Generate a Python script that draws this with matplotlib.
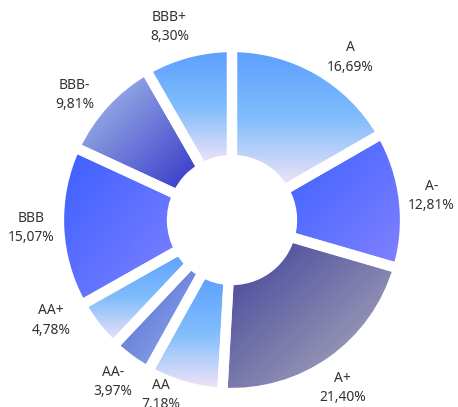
import numpy as np
import matplotlib
matplotlib.use("Agg")
import matplotlib.pyplot as plt
from matplotlib.colors import LinearSegmentedColormap

# rating buckets, clockwise from 12 o'clock
ratings = ["A", "A-", "A+", "AA", "AA-", "AA+", "BBB", "BBB-", "BBB+"]
shares = [16.69, 12.81, 21.40, 7.18, 3.97, 4.78, 15.07, 9.81, 8.30]

# fill style per bucket: (direction, colour stops)
sky = [(0, "#5b9dff"), (0.5, "#80bdfc"), (1, "#f8e6f6")]
violet = [(0, "#3a5fff"), (1, "#8282ff")]
fills = {
    "A": ("v", sky),
    "A-": ("d", violet),
    "A+": ("d", [(0, "#3c3c98"), (1, "#b6b6c0")]),
    "AA": ("v", sky),
    "AA-": ("d", [(0, "#4e60d0"), (1, "#96b6ee")]),
    "AA+": ("v", sky),
    "BBB": ("d", violet),
    "BBB-": ("d", [(0, "#b0cbec"), (1, "#2f2fc6")]),
    "BBB+": ("v", sky),
}
# label tweaks: (clockwise shift in degrees, extra radius) so crowded labels don't collide
nudge = {"A": (6, 0), "A+": (2, 0), "AA": (6, -12), "AA+": (9, 6),
         "BBB-": (-4, 0), "BBB+": (-3, 2)}

W, H = 458, 407
cx, cy = 232, H - 220
r_out, r_in = 173, 60
r_lab = 201

fig = plt.figure(figsize=(W / 100, H / 100), dpi=100)
ax = fig.add_axes([0, 0, 1, 1])

wedges, _ = ax.pie(shares, radius=r_out, center=(cx, cy), startangle=90,
                   counterclock=False, frame=True,
                   wedgeprops=dict(width=r_out - r_in, facecolor="none",
                                   edgecolor="white", linewidth=7.4))

n = 200
u, v = np.meshgrid(np.linspace(0, 1, n), np.linspace(0, 1, n))
for w, name, val in zip(wedges, ratings, shares):
    kind, stops = fills[name]
    cmap = LinearSegmentedColormap.from_list(name, stops)
    t = v if kind == "v" else (u + v) / 2
    bb = w.get_path().get_extents()
    im = ax.imshow(t, cmap=cmap, vmin=0, vmax=1, origin="upper", aspect="auto",
                   extent=(bb.x0, bb.x1, bb.y0, bb.y1), interpolation="bilinear", zorder=0)
    im.set_clip_path(w)
    w.set_zorder(2)

    dang, drad = nudge.get(name, (0, 0))
    mid = np.deg2rad((w.theta1 + w.theta2) / 2 - dang)
    lx = cx + (r_lab + drad) * np.cos(mid)
    ly = cy + (r_lab + drad) * np.sin(mid)
    pct = f"{val:.2f}".replace(".", ",") + "%"
    ax.text(lx, ly, f"{name}\n{pct}", ha="center", va="center", fontsize=10,
            family=["Noto Sans", "DejaVu Sans"], color="#333333", linespacing=1.4)

ax.set_xlim(0, W)
ax.set_ylim(0, H)
ax.axis("off")
fig.savefig("out.png", dpi=100, facecolor="white")
